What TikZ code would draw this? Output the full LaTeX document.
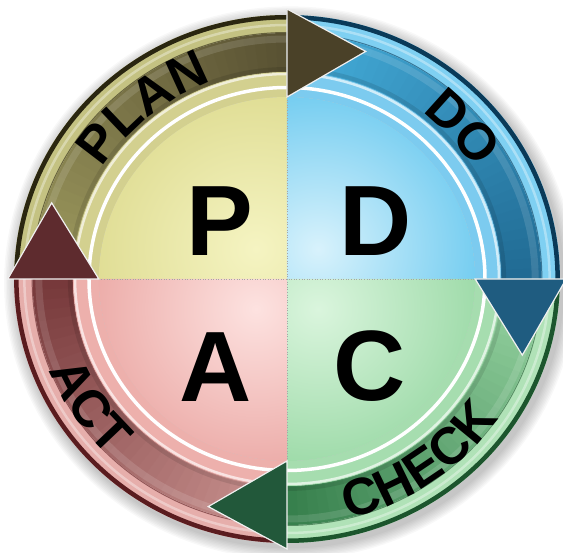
\documentclass[tikz,border=0pt]{standalone}
\usepackage{fontspec}
\setmainfont{Liberation Sans}
\usetikzlibrary{decorations.text}

% quadrant colours
\definecolor{Pin}{HTML}{F5F4C2}\definecolor{Pout}{HTML}{D8D584}\definecolor{Pbev}{HTML}{D3D08F}
\definecolor{Din}{HTML}{D8F2FC}\definecolor{Dout}{HTML}{4FBFEC}\definecolor{Dbev}{HTML}{7CCBEF}
\definecolor{Ain}{HTML}{FDE2E0}\definecolor{Aout}{HTML}{E69995}\definecolor{Abev}{HTML}{EDB0AC}
\definecolor{Cin}{HTML}{DAF5DD}\definecolor{Cout}{HTML}{88D196}\definecolor{Cbev}{HTML}{A6DDAF}
% arrow colours
\definecolor{OlL}{HTML}{9E9A5E}\definecolor{OlD}{HTML}{595233}\definecolor{OlH}{HTML}{4A4128}
\definecolor{OlRL}{HTML}{C4C282}\definecolor{OlRD}{HTML}{2A2610}
\definecolor{BlL}{HTML}{45AEDB}\definecolor{BlD}{HTML}{216B94}\definecolor{BlH}{HTML}{1F5C80}
\definecolor{BlRL}{HTML}{7FD0F2}\definecolor{BlRD}{HTML}{0A3A58}
\definecolor{GrL}{HTML}{98D5A3}\definecolor{GrD}{HTML}{37804D}\definecolor{GrH}{HTML}{22583A}
\definecolor{GrRL}{HTML}{B0E2B7}\definecolor{GrRD}{HTML}{1C552D}
\definecolor{MaL}{HTML}{CC9592}\definecolor{MaD}{HTML}{77393B}\definecolor{MaH}{HTML}{5E2B2E}
\definecolor{MaRL}{HTML}{E6AEAB}\definecolor{MaRD}{HTML}{5A1C1F}

\tikzset{
  annsec/.style n args={4}{insert path={(#1:#4) arc[start angle=#1,end angle=#2,radius=#4] -- (#2:#3) arc[start angle=#2,end angle=#1,radius=#3] -- cycle}},
  bigletter/.style={font=\bfseries\fontsize{100}{100}\selectfont, inner sep=0pt, text=black},
  headedge/.style={draw=white!88!gray, line width=1.2pt, line join=miter},
  divider/.style={draw=gray!70, dotted, line width=0.6pt},
  ringtext/.style={decorate, decoration={text along path, text align=center, text={|\fontsize{52}{52}\selectfont\bfseries|#1}}},
}

\newcommand\shaftgrad[4]{%
  \foreach \k in {0,...,35}{%
    \pgfmathsetmacro\sa{#1+(#2-#1)*\k/36}%
    \pgfmathsetmacro\sb{#1+(#2-#1)*(\k+1)/36-0.5}%
    \pgfmathsetmacro\pp{100*\k/35}%
    \path[fill=#4!\pp!#3, annsec={\sa}{\sb}{207pt}{246pt}];
  }
  \draw[white, opacity=0.12, line width=7pt] (#1:240pt) arc[start angle=#1, end angle=#2, radius=240pt];
  \draw[black, opacity=0.10, line width=4pt] (#1:210pt) arc[start angle=#1, end angle=#2, radius=210pt];
}
\newcommand\rimpart[4]{%
  \path[fill=#3, annsec={#1}{#2}{246pt}{264pt}];
  \draw[#4, line width=4.5pt] (#1:261.75pt) arc[start angle=#1, end angle=#2, radius=261.75pt];
  \draw[white, opacity=0.35, line width=2.5pt] (#1:254pt) arc[start angle=#1, end angle=#2, radius=254pt];
  \draw[#4!60!#3, line width=1pt] (#1:246.5pt) arc[start angle=#1, end angle=#2, radius=246.5pt];
}
\newcommand\bevelpart[3]{%
  \path[fill=#3, annsec={#1}{#2}{182pt}{207pt}];
  \draw[white, line width=3.5pt] (#1:191.5pt) arc[start angle=#1, end angle=#2, radius=191.5pt];
  \draw[white!65!#3, line width=2.5pt] (#1:205pt) arc[start angle=#1, end angle=#2, radius=205pt];
}
\newcommand\quadpart[5]{% a1 a2 centre inner outer
  \begin{scope}
    \clip (0,0) -- (#1:182pt) arc[start angle=#1, end angle=#2, radius=182pt] -- cycle;
    \shade[inner color=#4, outer color=#5] (#3) circle[radius=215pt];
  \end{scope}
}
\newcommand\headpart[2]{%
  \path[fill=#2, headedge] (#1:182pt) -- (#1:270pt) -- ({#1-18.5}:240pt) -- cycle;
}

\begin{document}
\begin{tikzpicture}
\useasboundingbox (-287pt,-274pt) rectangle (276pt,279pt);
\begin{scope}[xscale=1.034]
  % soft shadow
  \foreach \i in {1,...,9}{\fill[black, opacity=0.028] (3pt,-4pt) circle[radius=264pt+\i*1.4pt];}
  % outer rims
  \rimpart{180}{90}{OlRL}{OlRD}
  \rimpart{90}{0}{BlRL}{BlRD}
  \rimpart{0}{-90}{GrRL}{GrRD}
  \rimpart{-90}{-180}{MaRL}{MaRD}
  % arrow shafts
  \shaftgrad{180}{90}{OlL}{OlD}
  \shaftgrad{90}{0}{BlL}{BlD}
  \shaftgrad{0}{-90}{GrL}{GrD}
  \shaftgrad{-90}{-180}{MaL}{MaD}
  % bevel rings
  \bevelpart{180}{90}{Pbev}
  \bevelpart{90}{0}{Dbev}
  \bevelpart{0}{-90}{Cbev}
  \bevelpart{-90}{-180}{Abev}
  % quadrants
  \quadpart{180}{90}{-30pt,30pt}{Pin}{Pout}
  \quadpart{90}{0}{30pt,30pt}{Din}{Dout}
  \quadpart{0}{-90}{30pt,-30pt}{Cin}{Cout}
  \quadpart{-90}{-180}{-30pt,-30pt}{Ain}{Aout}
  % dividers
  \coordinate (vt) at (0,182pt); \coordinate (vb) at (0,-182pt);
  \coordinate (hl) at (-182pt,0); \coordinate (hr) at (182pt,0);
  \draw[divider] (vt) -- (vb);
  \draw[divider] (hl) -- (hr);
  % arrow heads
  \headpart{90}{OlH}
  \headpart{0}{BlH}
  \headpart{-90}{GrH}
  \headpart{180}{MaH}
  % ring labels
  \path[ringtext=PLAN] (159.4:210pt) arc[start angle=159.4, end angle=99.4, radius=210pt];
  \path[ringtext=DO] (71.5:212pt) arc[start angle=71.5, end angle=11.5, radius=212pt];
  \path[ringtext=CHECK] (-85:247pt) arc[start angle=-85, end angle=-25, radius=247pt];
  \path[ringtext=ACT] (183.7:247pt) arc[start angle=183.7, end angle=243.7, radius=247pt];
\end{scope}
\node[bigletter] (P) at (-67pt,58pt) {P};
\node[bigletter] (D) at (89pt,58pt) {D};
\node[bigletter] (A) at (-71pt,-88pt) {A};
\node[bigletter] (C) at (83pt,-87pt) {C};
\end{tikzpicture}
\end{document}
